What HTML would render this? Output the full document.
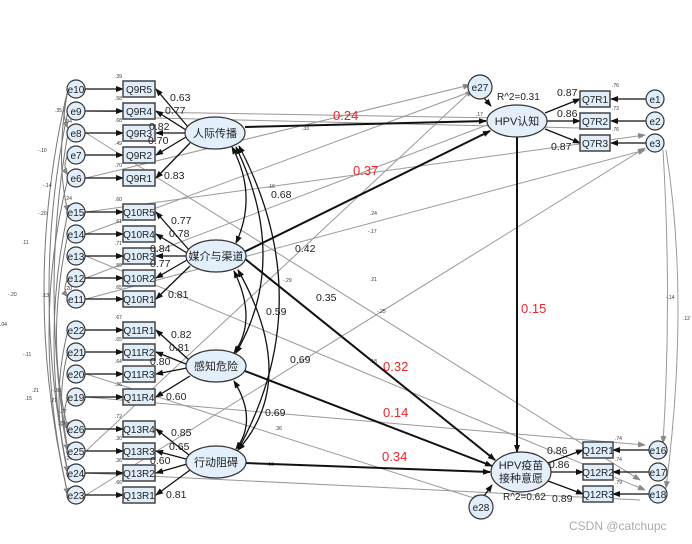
<!DOCTYPE html>
<html><head><meta charset="utf-8"><style>
html,body{margin:0;padding:0;background:#fff;}
svg{display:block;font-family:"Liberation Sans","Noto Sans CJK SC",sans-serif;}
.t{font-size:11px;fill:#222}
.s{font-size:5px;fill:#333}
.r{font-size:13px;fill:#e8262a}
.box{fill:#dfeefa;stroke:#444;stroke-width:1.5}
.cir{fill:#dfeefa;stroke:#333;stroke-width:1.2}
.ell{fill:#e3f0fb;stroke:#333;stroke-width:1.2}
.k{stroke:#111;stroke-width:1.3;fill:none}
.kb{stroke:#111;stroke-width:2;fill:none}
.g{stroke:#999;stroke-width:1;fill:none}
.g2{stroke:#777;stroke-width:1;fill:none}
</style></head><body>
<svg width="692" height="544" viewBox="0 0 692 544">
<defs>
<marker id="a" markerWidth="8" markerHeight="8" refX="7" refY="4" orient="auto" markerUnits="userSpaceOnUse"><path d="M0,1 L8,4 L0,7z" fill="#111"/></marker>
<marker id="ag" markerWidth="8" markerHeight="8" refX="7" refY="4" orient="auto" markerUnits="userSpaceOnUse"><path d="M0,1 L8,4 L0,7z" fill="#888"/></marker>
<marker id="as" markerWidth="8" markerHeight="8" refX="1" refY="4" orient="auto" markerUnits="userSpaceOnUse"><path d="M8,1 L0,4 L8,7z" fill="#111"/></marker>
</defs>

<!-- gray residual correlations / cross lines -->
<g class="g">
<path d="M155,118 L580,128"/>
<path d="M86,111 L500,118"/>
<path d="M86,133 L640,480" marker-end="url(#ag)"/>
<path d="M86,256 L645,490" marker-end="url(#ag)"/>
<path d="M86,299 L645,150" marker-end="url(#ag)"/>
<path d="M86,374 L480,500" marker-end="url(#ag)"/>
<path d="M86,397 L645,445" marker-end="url(#ag)"/>
<path d="M86,495 L645,148" marker-end="url(#ag)"/>
<path d="M86,451 L472,90" marker-end="url(#ag)"/>
<path d="M86,178 L470,85" marker-end="url(#ag)"/>
<path d="M86,212 L645,135" marker-end="url(#ag)"/>
<path d="M86,234 L470,92"/>
<path d="M86,278 L500,120"/>
<path d="M86,473 L640,500"/>
<path d="M663,150 Q672,300 663,443" marker-end="url(#ag)"/>
<path d="M666,150 Q690,300 666,488" marker-end="url(#ag)"/>
</g>
<g class="g2">
<path d="M68,89 Q20,290 68,495" marker-end="url(#ag)"/>
<path d="M68,111 Q30,290 68,473" marker-end="url(#ag)"/>
<path d="M68,133 Q40,290 68,451" marker-end="url(#ag)"/>
<path d="M68,178 Q30,330 68,495" marker-end="url(#ag)"/>
<path d="M68,212 Q40,340 68,473" marker-end="url(#ag)"/>
<path d="M68,234 Q45,340 68,429" marker-end="url(#ag)"/>
<path d="M68,89 Q55,160 68,212" marker-end="url(#ag)"/>
<path d="M68,92 Q60,112 68,128" marker-end="url(#ag)"/>
<path d="M68,155 Q62,166 68,175" marker-end="url(#ag)"/>
<path d="M68,278 Q62,290 68,297" marker-end="url(#ag)"/>
<path d="M68,352 Q55,400 68,451" marker-end="url(#ag)"/>
<path d="M68,397 Q60,420 68,429" marker-end="url(#ag)"/>
<path d="M68,330 Q50,400 68,473" marker-end="url(#ag)"/>
</g>
<g class="s">
<text x="55" y="112">.35</text><text x="38" y="152">-.10</text><text x="43" y="187">-.14</text>
<text x="22" y="244">.11</text><text x="38" y="215">-.20</text><text x="8" y="296">-.20</text><text x="42" y="297">.13</text>
<text x="0" y="326">.04</text><text x="23" y="356">-.11</text><text x="32" y="392">.21</text><text x="25" y="400">.15</text>
<text x="52" y="392">-.30</text><text x="50" y="402">.27</text><text x="58" y="413">-.27</text><text x="58" y="425">.29</text>
<text x="65" y="123">.34</text><text x="65" y="200">.24</text><text x="65" y="290">.20</text><text x="65" y="460">.24</text>
<text x="302" y="130">.33</text><text x="268" y="188">.16</text><text x="370" y="215">.24</text><text x="368" y="233">-.17</text>
<text x="283" y="282">-.29</text><text x="370" y="281">.21</text><text x="377" y="313">-.25</text><text x="370" y="363">.18</text>
<text x="275" y="430">.36</text><text x="267" y="466">.16</text><text x="476" y="116">.17</text><text x="495" y="131">.18</text>
<text x="666" y="299">-.14</text><text x="683" y="320">.12</text>
<text x="115" y="78">.39</text><text x="115" y="100">.58</text><text x="115" y="122">.68</text><text x="115" y="145">.49</text><text x="115" y="167">.70</text>
<text x="115" y="201">.60</text><text x="115" y="223">.61</text><text x="115" y="245">.71</text><text x="115" y="267">.59</text><text x="115" y="289">.65</text>
<text x="115" y="319">.67</text><text x="115" y="341">.65</text><text x="115" y="363">.64</text><text x="115" y="386">.36</text>
<text x="115" y="418">.72</text><text x="115" y="440">.30</text><text x="115" y="462">.36</text><text x="115" y="484">.66</text>
<text x="612" y="87">.76</text><text x="612" y="110">.73</text><text x="612" y="131">.76</text>
<text x="615" y="440">.74</text><text x="615" y="461">.74</text><text x="615" y="484">.79</text>
</g>

<!-- left measurement -->
<g id="left">
<!-- e->box arrows -->
<g class="k">
<path d="M85,89 H123" marker-end="url(#a)"/><path d="M85,111 H123" marker-end="url(#a)"/><path d="M85,133 H123" marker-end="url(#a)"/><path d="M85,155 H123" marker-end="url(#a)"/><path d="M85,178 H123" marker-end="url(#a)"/>
<path d="M85,212 H123" marker-end="url(#a)"/><path d="M85,234 H123" marker-end="url(#a)"/><path d="M85,256 H123" marker-end="url(#a)"/><path d="M85,278 H123" marker-end="url(#a)"/><path d="M85,299 H123" marker-end="url(#a)"/>
<path d="M85,330 H123" marker-end="url(#a)"/><path d="M85,352 H123" marker-end="url(#a)"/><path d="M85,374 H123" marker-end="url(#a)"/><path d="M85,397 H123" marker-end="url(#a)"/>
<path d="M85,429 H123" marker-end="url(#a)"/><path d="M85,451 H123" marker-end="url(#a)"/><path d="M85,473 H123" marker-end="url(#a)"/><path d="M85,495 H123" marker-end="url(#a)"/>
<!-- loadings -->
<path d="M188,127 L156,89" marker-end="url(#a)"/><path d="M186,130 L156,111" marker-end="url(#a)"/><path d="M185,133 L156,133" marker-end="url(#a)"/><path d="M186,137 L156,155" marker-end="url(#a)"/><path d="M190,143 L156,178" marker-end="url(#a)"/>
<path d="M189,250 L156,212" marker-end="url(#a)"/><path d="M187,253 L156,234" marker-end="url(#a)"/><path d="M186,256 L156,256" marker-end="url(#a)"/><path d="M187,260 L156,278" marker-end="url(#a)"/><path d="M190,266 L156,299" marker-end="url(#a)"/>
<path d="M189,360 L156,330" marker-end="url(#a)"/><path d="M186,364 L156,352" marker-end="url(#a)"/><path d="M187,368 L156,374" marker-end="url(#a)"/><path d="M190,376 L156,397" marker-end="url(#a)"/>
<path d="M189,455 L156,429" marker-end="url(#a)"/><path d="M186,459 L156,451" marker-end="url(#a)"/><path d="M187,464 L156,473" marker-end="url(#a)"/><path d="M190,470 L156,495" marker-end="url(#a)"/>
</g>
<g>
<circle class="cir" cx="76" cy="89" r="9"/><circle class="cir" cx="76" cy="111" r="9"/><circle class="cir" cx="76" cy="133" r="9"/><circle class="cir" cx="76" cy="155" r="9"/><circle class="cir" cx="76" cy="178" r="9"/>
<circle class="cir" cx="76" cy="212" r="9"/><circle class="cir" cx="76" cy="234" r="9"/><circle class="cir" cx="76" cy="256" r="9"/><circle class="cir" cx="76" cy="278" r="9"/><circle class="cir" cx="76" cy="299" r="9"/>
<circle class="cir" cx="76" cy="330" r="9"/><circle class="cir" cx="76" cy="352" r="9"/><circle class="cir" cx="76" cy="374" r="9"/><circle class="cir" cx="76" cy="397" r="9"/>
<circle class="cir" cx="76" cy="429" r="9"/><circle class="cir" cx="76" cy="451" r="9"/><circle class="cir" cx="76" cy="473" r="9"/><circle class="cir" cx="76" cy="495" r="9"/>
</g>
<g class="t" text-anchor="middle" style="font-size:10px">
<text x="76" y="93">e10</text><text x="76" y="115">e9</text><text x="76" y="137">e8</text><text x="76" y="159">e7</text><text x="76" y="182">e6</text>
<text x="76" y="216">e15</text><text x="76" y="238">e14</text><text x="76" y="260">e13</text><text x="76" y="282">e12</text><text x="76" y="303">e11</text>
<text x="76" y="334">e22</text><text x="76" y="356">e21</text><text x="76" y="378">e20</text><text x="76" y="401">e19</text>
<text x="76" y="433">e26</text><text x="76" y="455">e25</text><text x="76" y="477">e24</text><text x="76" y="499">e23</text>
</g>
<g>
<rect class="box" x="123" y="81" width="32" height="16"/><rect class="box" x="123" y="103" width="32" height="16"/><rect class="box" x="123" y="125" width="32" height="16"/><rect class="box" x="123" y="147" width="32" height="16"/><rect class="box" x="123" y="170" width="32" height="16"/>
<rect class="box" x="123" y="204" width="32" height="16"/><rect class="box" x="123" y="226" width="32" height="16"/><rect class="box" x="123" y="248" width="32" height="16"/><rect class="box" x="123" y="270" width="32" height="16"/><rect class="box" x="123" y="291" width="32" height="16"/>
<rect class="box" x="123" y="322" width="32" height="16"/><rect class="box" x="123" y="344" width="32" height="16"/><rect class="box" x="123" y="366" width="32" height="16"/><rect class="box" x="123" y="389" width="32" height="16"/>
<rect class="box" x="123" y="421" width="32" height="16"/><rect class="box" x="123" y="443" width="32" height="16"/><rect class="box" x="123" y="465" width="32" height="16"/><rect class="box" x="123" y="487" width="32" height="16"/>
</g>
<g class="t" text-anchor="middle" style="font-size:10px">
<text x="139" y="93">Q9R5</text><text x="139" y="115">Q9R4</text><text x="139" y="137">Q9R3</text><text x="139" y="159">Q9R2</text><text x="139" y="182">Q9R1</text>
<text x="139" y="216">Q10R5</text><text x="139" y="238">Q10R4</text><text x="139" y="260">Q10R3</text><text x="139" y="282">Q10R2</text><text x="139" y="303">Q10R1</text>
<text x="139" y="334">Q11R1</text><text x="139" y="356">Q11R2</text><text x="139" y="378">Q11R3</text><text x="139" y="401">Q11R4</text>
<text x="139" y="433">Q13R4</text><text x="139" y="455">Q13R3</text><text x="139" y="477">Q13R2</text><text x="139" y="499">Q13R1</text>
</g>
<g class="t" style="font-size:10.5px">
<text x="170" y="101">0.63</text><text x="165" y="114">0.77</text><text x="149" y="130">0.82</text><text x="148" y="144">0.70</text><text x="164" y="179">0.83</text>
<text x="171" y="224">0.77</text><text x="169" y="237">0.78</text><text x="150" y="252">0.84</text><text x="150" y="267">0.77</text><text x="168" y="298">0.81</text>
<text x="171" y="338">0.82</text><text x="169" y="351">0.81</text><text x="150" y="365">0.80</text><text x="166" y="400">0.60</text>
<text x="171" y="436">0.85</text><text x="169" y="450">0.65</text><text x="150" y="464">0.60</text><text x="166" y="498">0.81</text>
</g>
</g>

<!-- latent correlations -->
<g class="k">
<path d="M232,147 Q258,195 236,243" marker-start="url(#as)" marker-end="url(#a)"/>
<path d="M236,147 Q290,260 236,353" marker-start="url(#as)" marker-end="url(#a)"/>
<path d="M239,146 Q320,300 238,450" marker-start="url(#as)" marker-end="url(#a)"/>
<path d="M234,271 Q258,320 234,353" marker-start="url(#as)" marker-end="url(#a)"/>
<path d="M238,270 Q300,380 238,450" marker-start="url(#as)" marker-end="url(#a)"/>
<path d="M234,381 Q258,420 236,449" marker-start="url(#as)" marker-end="url(#a)"/>
</g>
<g class="t" style="font-size:10.5px">
<text x="271" y="198">0.68</text><text x="295" y="252">0.42</text><text x="316" y="301">0.35</text>
<text x="266" y="315">0.59</text><text x="290" y="363">0.69</text><text x="265" y="416">0.69</text>
</g>

<!-- structural paths -->
<g class="kb">
<path d="M245,127 L486,121" marker-end="url(#a)"/>
<path d="M244,252 L490,131" marker-end="url(#a)"/>
<path d="M244,258 L495,460" marker-end="url(#a)"/>
<path d="M245,371 L492,466" marker-end="url(#a)"/>
<path d="M245,463 L490,472" marker-end="url(#a)"/>
<path d="M517,137 L517,452" marker-end="url(#a)"/>
</g>
<g class="r"><text x="333" y="120">0.24</text><text x="353" y="175">0.37</text><text x="521" y="313">0.15</text><text x="383" y="371">0.32</text><text x="383" y="417">0.14</text><text x="382" y="461">0.34</text></g>

<!-- latents -->
<ellipse class="ell" cx="215" cy="133" rx="30" ry="16"/><text class="t" x="215" y="137" text-anchor="middle">人际传播</text>
<ellipse class="ell" cx="216" cy="256" rx="30" ry="16"/><text class="t" x="216" y="260" text-anchor="middle">媒介与渠道</text>
<ellipse class="ell" cx="216" cy="366" rx="30" ry="16"/><text class="t" x="216" y="370" text-anchor="middle">感知危险</text>
<ellipse class="ell" cx="216" cy="462" rx="30" ry="16"/><text class="t" x="216" y="466" text-anchor="middle">行动阻碍</text>

<!-- right side -->
<g class="k">
<path d="M484,98 L491,106" marker-end="url(#a)"/>
<path d="M484,496 L492,485" marker-end="url(#a)"/>
<path d="M545,113 L580,99" marker-end="url(#a)"/><path d="M547,121 L580,121" marker-end="url(#a)"/><path d="M545,129 L580,143" marker-end="url(#a)"/>
<path d="M646,99 H611" marker-end="url(#a)"/><path d="M646,121 H611" marker-end="url(#a)"/><path d="M646,143 H611" marker-end="url(#a)"/>
<path d="M548,463 L583,450" marker-end="url(#a)"/><path d="M550,472 L583,472" marker-end="url(#a)"/><path d="M548,481 L583,494" marker-end="url(#a)"/>
<path d="M649,450 H613" marker-end="url(#a)"/><path d="M649,472 H613" marker-end="url(#a)"/><path d="M649,494 H613" marker-end="url(#a)"/>
</g>
<circle class="cir" cx="480" cy="87" r="12"/><text class="t" x="480" y="91" text-anchor="middle" style="font-size:10px">e27</text>
<circle class="cir" cx="481" cy="507" r="12"/><text class="t" x="481" y="511" text-anchor="middle" style="font-size:10px">e28</text>
<ellipse class="ell" cx="517" cy="121" rx="30" ry="16"/><text class="t" x="517" y="125" text-anchor="middle">HPV认知</text>
<ellipse class="ell" cx="521" cy="472" rx="30" ry="20"/><text class="t" x="521" y="469" text-anchor="middle">HPV疫苗</text><text class="t" x="521" y="482" text-anchor="middle">接种意愿</text>
<text class="t" x="497" y="100" style="font-size:10px">R^2=0.31</text>
<text class="t" x="503" y="500" style="font-size:10px">R^2=0.62</text>
<rect class="box" x="580" y="91" width="30" height="16"/><rect class="box" x="580" y="113" width="30" height="16"/><rect class="box" x="580" y="135" width="30" height="16"/>
<rect class="box" x="583" y="442" width="30" height="16"/><rect class="box" x="583" y="464" width="30" height="16"/><rect class="box" x="583" y="486" width="30" height="16"/>
<g class="t" text-anchor="middle" style="font-size:10px">
<text x="595" y="103">Q7R1</text><text x="595" y="125">Q7R2</text><text x="595" y="147">Q7R3</text>
<text x="598" y="454">Q12R1</text><text x="598" y="476">Q12R2</text><text x="598" y="498">Q12R3</text>
</g>
<circle class="cir" cx="655" cy="99" r="9"/><circle class="cir" cx="655" cy="121" r="9"/><circle class="cir" cx="655" cy="143" r="9"/>
<circle class="cir" cx="658" cy="450" r="9"/><circle class="cir" cx="658" cy="472" r="9"/><circle class="cir" cx="658" cy="494" r="9"/>
<g class="t" text-anchor="middle" style="font-size:10px">
<text x="655" y="103">e1</text><text x="655" y="125">e2</text><text x="655" y="147">e3</text>
<text x="658" y="454">e16</text><text x="658" y="476">e17</text><text x="658" y="498">e18</text>
</g>
<g class="t" style="font-size:10.5px">
<text x="557" y="96">0.87</text><text x="557" y="117">0.86</text><text x="551" y="150">0.87</text>
<text x="547" y="454">0.86</text><text x="549" y="468">0.86</text><text x="552" y="502">0.89</text>
</g>
<text x="569" y="530" style="font-size:12px;fill:#aaa">CSDN @catchupc</text>
</svg>
</body></html>
